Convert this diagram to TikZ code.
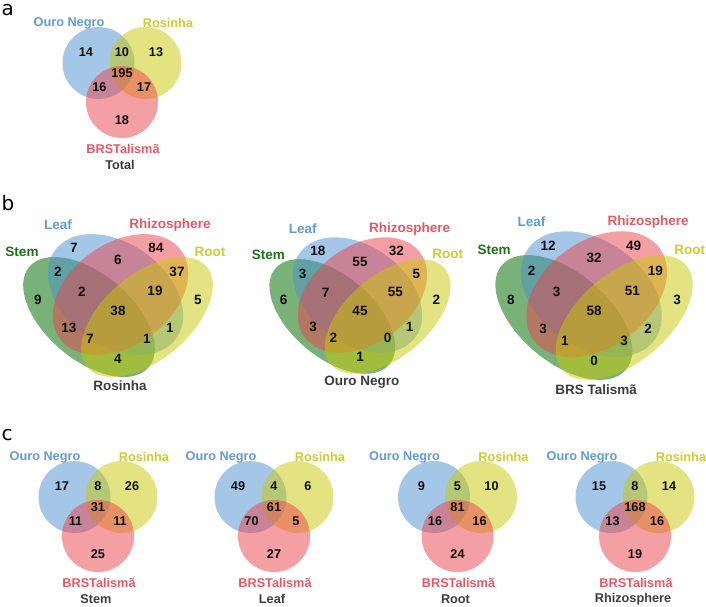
\documentclass[tikz,border=0pt]{standalone}
\usepackage{fontspec}
\setmainfont{Liberation Sans}
\newfontfamily\letterfont{DejaVu Sans}
\definecolor{vblue}{RGB}{75,145,209}
\definecolor{vyel}{RGB}{201,201,5}
\definecolor{vred}{RGB}{235,65,75}
\definecolor{vgreen}{RGB}{10,115,10}
\definecolor{lblue}{RGB}{95,155,215}
\definecolor{lyel}{RGB}{205,205,45}
\definecolor{lred}{RGB}{232,88,100}
\definecolor{lgreen}{RGB}{25,115,25}
\definecolor{numc}{RGB}{15,15,15}
\definecolor{titc}{RGB}{60,60,60}
\tikzset{
  lab3/.style={font=\bfseries\fontsize{12.7}{14}\selectfont, inner sep=0pt},
  num3/.style={lab3, text=numc},
  lab4/.style={font=\bfseries\fontsize{13.5}{15}\selectfont, inner sep=0pt},
  num4/.style={lab4, text=numc},
  plet/.style={font=\letterfont\fontsize{20}{24}\selectfont, inner sep=0pt, anchor=base west},
  bluef/.style={fill=vblue, fill opacity=0.5},
  yelf/.style={fill=vyel, fill opacity=0.5},
  redf/.style={fill=vred, fill opacity=0.5},
  greenf/.style={fill=vgreen, fill opacity=0.55},
}
% three-set diagram: #1 prefix, #2 blue, #3 blue-yellow, #4 yellow, #5 centre, #6 blue-red, #7 yellow-red, #8 red, #9 title
\newcommand\myvennthree[9]{%
  \fill[bluef] (-23.5,0) circle [radius=36];
  \fill[yelf] (23.5,0) circle [radius=36];
  \fill[redf] (0,39) circle [radius=36];
  \node[num3] (#1-b) at (-36,-11) {#2};
  \node[num3] (#1-by) at (0,-11) {#3};
  \node[num3] (#1-y) at (34,-11) {#4};
  \node[num3] (#1-c) at (0,10.5) {#5};
  \node[num3] (#1-br) at (-22.5,24) {#6};
  \node[num3] (#1-yr) at (22,24) {#7};
  \node[num3] (#1-r) at (0,57) {#8};
  \node[lab3, text=lblue] (#1-lb) at (-53,-40) {Ouro Negro};
  \node[lab3, text=lyel] (#1-ly) at (46,-40) {Rosinha};
  \node[lab3, text=lred] (#1-lr) at (1,85.5) {BRSTalismã};
  \node[lab3, text=titc] (#1-t) at (-2,102) {#9};
}
% four-set shapes: #1 prefix, #2 title
\newcommand\myfourshapes[2]{%
  \fill[greenf, rotate around={-40:(-29,12)}] (-29,12) ellipse [x radius=78, y radius=43];
  \fill[bluef, rotate around={-36:(-2.5,-10.5)}] (-2.5,-10.5) ellipse [x radius=75, y radius=51];
  \fill[redf, rotate around={36:(2.5,-10.5)}] (2.5,-10.5) ellipse [x radius=75, y radius=51];
  \fill[yelf, rotate around={40:(29,12)}] (29,12) ellipse [x radius=78, y radius=43];
  \node[lab4, text=lgreen] (#1-ls) at (-96,-53) {Stem};
  \node[lab4, text=lblue] (#1-ll) at (-60,-80) {Leaf};
  \node[lab4, text=lred] (#1-lz) at (52,-80) {Rhizosphere};
  \node[lab4, text=lyel] (#1-lo) at (92,-53) {Root};
  \node[lab4, text=titc] (#1-t) at (2,81) {#2};
}
% #1 prefix, A, B, C, D, AB, BC, CD, ABC
\newcommand\myfournumsA[9]{%
  \node[num4] (#1-A) at (-80,-5) {#2};
  \node[num4] (#1-B) at (-44,-57) {#3};
  \node[num4] (#1-C) at (38,-57) {#4};
  \node[num4] (#1-D) at (80,-5) {#5};
  \node[num4] (#1-AB) at (-60,-33) {#6};
  \node[num4] (#1-BC) at (0,-45) {#7};
  \node[num4] (#1-CD) at (59,-33) {#8};
  \node[num4] (#1-ABC) at (-36,-13) {#9};
}
% #1 prefix, BCD, ABCD, AC, BD, ACD, ABD, AD
\newcommand\myfournumsB[8]{%
  \node[num4] (#1-BCD) at (37,-14) {#2};
  \node[num4] (#1-ABCD) at (0,6) {#3};
  \node[num4] (#1-AC) at (-49,23) {#4};
  \node[num4] (#1-BD) at (52,23) {#5};
  \node[num4] (#1-ACD) at (-28,34) {#6};
  \node[num4] (#1-ABD) at (29,34) {#7};
  \node[num4] (#1-AD) at (0,54) {#8};
}
\begin{document}
\begin{tikzpicture}[x=1pt, y=-1pt]
\useasboundingbox (0,0) rectangle (706,606);
\fill[white] (0,0) rectangle (706,606);
\node[plet] (pa) at (1.5,15) {a};
\node[plet] (pb) at (1.5,210) {b};
\node[plet] (pc) at (1.5,440) {c};
% panel a
\begin{scope}[shift={(122,63)}]
  \myvennthree{a}{14}{10}{13}{195}{16}{17}{18}{Total}
\end{scope}
% panel b
\begin{scope}[shift={(118,305)}]
  \myfourshapes{b1}{Rosinha}
  \myfournumsA{b1}{9}{7}{84}{5}{2}{6}{37}{2}
  \myfournumsB{b1}{19}{38}{13}{1}{7}{1}{4}
\end{scope}
\begin{scope}[shift={(360,305)}, scale=0.955]
  \myfourshapes{b2}{Ouro Negro}
  \myfournumsA{b2}{6}{18}{32}{2}{3}{55}{5}{7}
  \myfournumsB{b2}{55}{45}{3}{1}{2}{0}{1}
\end{scope}
\begin{scope}[shift={(594,305)}, scale=1.04]
  \myfourshapes{b3}{BRS Talismã}
  \myfournumsA{b3}{8}{12}{49}{3}{2}{32}{19}{3}
  \myfournumsB{b3}{51}{58}{3}{2}{1}{3}{0}
\end{scope}
% panel c
\begin{scope}[shift={(98,497)}]
  \myvennthree{c1}{17}{8}{26}{31}{11}{11}{25}{Stem}
\end{scope}
\begin{scope}[shift={(274,497)}]
  \myvennthree{c2}{49}{4}{6}{61}{70}{5}{27}{Leaf}
\end{scope}
\begin{scope}[shift={(457.5,497)}]
  \myvennthree{c3}{9}{5}{10}{81}{16}{16}{24}{Root}
\end{scope}
\begin{scope}[shift={(635,497)}]
  \myvennthree{c4}{15}{8}{14}{168}{13}{16}{19}{Rhizosphere}
\end{scope}
\end{tikzpicture}
\end{document}
